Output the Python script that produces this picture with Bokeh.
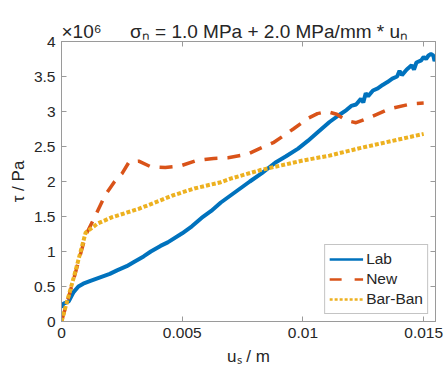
from bokeh.plotting import figure
from bokeh.models import (Range1d, LinearAxis, FixedTicker, CustomJSTickFormatter,
                          Legend, LegendItem, Title)
from bokeh.embed import file_html
from bokeh.resources import INLINE

# ---- data (tau in units of 1e6 Pa) ----
lab_x = [0, 0.0001, 0.0002, 0.0003, 0.0005, 0.0007, 0.0009, 0.0012, 0.0016, 0.002,
         0.0023, 0.0027, 0.003, 0.0034, 0.0037, 0.0041, 0.0044, 0.005, 0.0054, 0.0058,
         0.0062, 0.0066, 0.007, 0.0074, 0.0078, 0.0083, 0.0086, 0.0089, 0.0093, 0.0098,
         0.0102, 0.0106, 0.0111, 0.0115, 0.0118, 0.012, 0.0122, 0.0124, 0.0125, 0.0126,
         0.0127, 0.0129, 0.0131, 0.0133, 0.0135, 0.0137, 0.0139, 0.014, 0.0141, 0.0143,
         0.0145, 0.0146, 0.0147, 0.0149, 0.015, 0.0151, 0.0152, 0.0153, 0.0154, 0.01545,
         0.0155]
lab_y = [0.2, 0.26, 0.27, 0.29, 0.42, 0.5, 0.54, 0.58, 0.63, 0.68,
         0.73, 0.79, 0.85, 0.93, 1.0, 1.08, 1.13, 1.26, 1.36, 1.48,
         1.58, 1.7, 1.8, 1.9, 2.0, 2.12, 2.2, 2.28, 2.36, 2.47,
         2.58, 2.7, 2.85, 2.95, 3.02, 3.08, 3.1, 3.18, 3.13, 3.26,
         3.22, 3.3, 3.33, 3.38, 3.42, 3.47, 3.5, 3.58, 3.52, 3.6,
         3.66, 3.6, 3.7, 3.73, 3.78, 3.75, 3.8, 3.82, 3.8, 3.72,
         3.76]

new_x = [0, 0.0005, 0.001, 0.0014, 0.0018, 0.0022, 0.0025, 0.0028, 0.0032, 0.0037,
         0.0043, 0.0049, 0.0056, 0.0063, 0.0069, 0.0077, 0.0082, 0.0088, 0.0096, 0.0102,
         0.0106, 0.011, 0.0114, 0.0118, 0.0122, 0.0128, 0.0136, 0.0145, 0.015]
new_y = [0, 0.6, 1.23, 1.51, 1.8, 2.0, 2.11, 2.28, 2.29, 2.21,
         2.2, 2.22, 2.3, 2.33, 2.34, 2.39, 2.47, 2.56, 2.75, 2.9,
         2.97, 3.0, 2.96, 2.87, 2.84, 2.92, 3.04, 3.11, 3.12]

bb_x = [0, 0.0005, 0.001, 0.0015, 0.0021, 0.0032, 0.0041, 0.0046, 0.0055, 0.0066,
        0.007, 0.0082, 0.01, 0.0111, 0.0124, 0.0137, 0.015]
bb_y = [0, 0.62, 1.27, 1.4, 1.49, 1.61, 1.73, 1.8, 1.9, 1.99,
        2.04, 2.16, 2.3, 2.37, 2.48, 2.58, 2.68]

x_ticks = [0, 0.005, 0.01, 0.015]
y_ticks = [0, 0.5, 1, 1.5, 2, 2.5, 3, 3.5, 4]
series_names = ["Lab", "New", "Bar-Ban"]
exponent_text = "×10⁶"
title_text = "σₙ = 1.0 MPa + 2.0 MPa/mm * uₙ"

FONT = "Liberation Sans"
TXT = "#262626"
AX = "#9a9a9a"
C_LAB, C_NEW, C_BB = "#0072BD", "#D95319", "#EDB120"
NAN = float("nan")

p = figure(width=444, height=371, output_backend="svg",
           toolbar_location=None, x_range=Range1d(0, 0.01549), y_range=Range1d(0, 4),
           min_border_left=61, min_border_top=41, min_border_right=9, min_border_bottom=50,
           x_axis_location=None, y_axis_location=None, title=None)
p.xgrid.visible = False
p.ygrid.visible = False
p.outline_line_color = AX
p.background_fill_color = "white"
p.border_fill_color = "white"

fmt = CustomJSTickFormatter(code="return String(tick);")


def style(ax, labels=True):
    ax.major_tick_in = 5
    ax.major_tick_out = 0
    ax.minor_tick_line_color = None
    ax.axis_line_color = AX
    ax.major_tick_line_color = AX
    ax.major_label_text_font = FONT
    ax.major_label_text_font_size = "15.5px"
    ax.major_label_text_color = TXT
    ax.axis_label_text_font = FONT
    ax.axis_label_text_font_size = "17px"
    ax.axis_label_text_font_style = "normal"
    ax.axis_label_text_color = TXT
    ax.formatter = fmt
    if not labels:
        ax.major_label_text_color = None
        ax.major_label_standoff = 0


xb = LinearAxis(ticker=FixedTicker(ticks=x_ticks), axis_label="uₛ / m")
style(xb)
xb.major_label_standoff = 6
xb.axis_label_standoff = 6
p.add_layout(xb, "below")

yl = LinearAxis(ticker=FixedTicker(ticks=y_ticks), axis_label="τ / Pa")
style(yl)
yl.major_label_standoff = 6
yl.axis_label_standoff = 3
p.add_layout(yl, "left")

xt = LinearAxis(ticker=FixedTicker(ticks=x_ticks))
style(xt, labels=False)
p.add_layout(xt, "above")
yr = LinearAxis(ticker=FixedTicker(ticks=y_ticks))
style(yr, labels=False)
p.add_layout(yr, "right")

p.line(lab_x, lab_y, line_color=C_LAB, line_width=4)
p.line(new_x, new_y, line_color=C_NEW, line_width=3.5, line_dash="13 10")
p.line(bb_x, bb_y, line_color=C_BB, line_width=4, line_dash="4 2")

# thinner legend swatches, as in the reference (no visible data)
g_lab = p.line([NAN], [NAN], line_color=C_LAB, line_width=2.5)
g_new = p.line([NAN], [NAN], line_color=C_NEW, line_width=2.5, line_dash="12 13")
g_bb = p.line([NAN], [NAN], line_color=C_BB, line_width=2.5, line_dash="3 2")

legend = Legend(items=[LegendItem(label=series_names[0], renderers=[g_lab]),
                       LegendItem(label=series_names[1], renderers=[g_new]),
                       LegendItem(label=series_names[2], renderers=[g_bb])],
                location="bottom_right", margin=7, padding=4, spacing=0,
                glyph_width=34, glyph_height=20, label_height=20, label_standoff=3,
                label_text_font=FONT, label_text_font_size="15.5px", label_text_color=TXT,
                border_line_color="#8a8a8a", border_line_width=1,
                background_fill_color="white", background_fill_alpha=1)
p.add_layout(legend, "center")

t = Title(text=exponent_text + "\u2003\u2002" + title_text, align="left",
          text_font=FONT, text_font_size="19px", text_font_style="normal",
          text_color=TXT, standoff=0, offset=0)
p.add_layout(t, "above")

open("out.html", "w").write(file_html(p, INLINE))
